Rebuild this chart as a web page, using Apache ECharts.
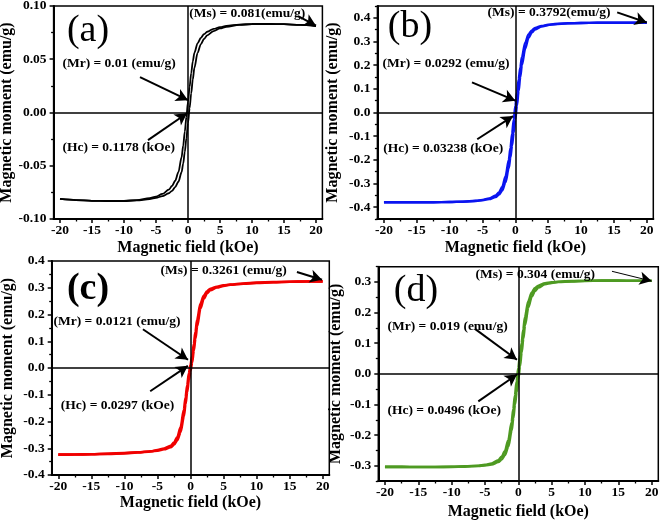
<!DOCTYPE html>
<html><head><meta charset="utf-8">
<script src="https://cdn.jsdelivr.net/npm/echarts@6/dist/echarts.min.js"></script>
<style>html,body{margin:0;padding:0;background:#fff}#c{width:661px;height:522px}</style>
</head><body><div id="c"></div>
<script>
// ---------- data ----------
const fieldKOe = [-20,-17.5,-15,-12.5,-10,-8,-6,-5,-4,-3,-2.5,-2,-1.5,-1,-0.75,-0.5,-0.25,0,0.25,0.5,0.75,1,1.5,2,2.5,3,4,5,6,8,10,12.5,15,17.5,20];

const aUpper = [-0.0812,-0.0822,-0.0829,-0.0831,-0.0829,-0.0822,-0.0805,-0.079,-0.0765,-0.0725,-0.069,-0.064,-0.056,-0.042,-0.031,-0.018,-0.004,0.010,0.024,0.037,0.048,0.056,0.065,0.070,0.0735,0.0758,0.0785,0.0802,0.0813,0.0826,0.0831,0.0832,0.0829,0.0822,0.0812];
const aLower = [-0.0812,-0.0822,-0.0829,-0.0832,-0.0831,-0.0826,-0.0813,-0.0802,-0.0785,-0.0758,-0.0735,-0.070,-0.065,-0.056,-0.048,-0.037,-0.024,-0.010,0.004,0.018,0.031,0.042,0.056,0.064,0.069,0.0725,0.0765,0.079,0.0805,0.0822,0.0829,0.0831,0.0829,0.0822,0.0812];

const bUpper = [-0.3792,-0.3792,-0.379,-0.379,-0.378,-0.3765,-0.373,-0.369,-0.363,-0.351,-0.338,-0.315,-0.27,-0.20,-0.15,-0.09,-0.03,0.029,0.085,0.14,0.19,0.235,0.295,0.33,0.347,0.357,0.366,0.371,0.374,0.377,0.378,0.379,0.379,0.3792,0.3792];
const bLower = [-0.3792,-0.3792,-0.379,-0.379,-0.378,-0.377,-0.374,-0.371,-0.366,-0.357,-0.347,-0.33,-0.295,-0.235,-0.19,-0.14,-0.085,-0.029,0.03,0.09,0.15,0.20,0.27,0.315,0.338,0.351,0.363,0.369,0.373,0.3765,0.378,0.379,0.379,0.3792,0.3792];

const cUpper = [-0.324,-0.3233,-0.3222,-0.3205,-0.318,-0.315,-0.311,-0.307,-0.301,-0.291,-0.279,-0.258,-0.222,-0.155,-0.11,-0.065,-0.02,0.012,0.045,0.09,0.135,0.18,0.24,0.27,0.287,0.296,0.304,0.309,0.312,0.316,0.319,0.321,0.3225,0.3235,0.324];
const cLower = [-0.324,-0.3235,-0.3225,-0.321,-0.319,-0.316,-0.312,-0.309,-0.304,-0.296,-0.287,-0.27,-0.24,-0.18,-0.135,-0.09,-0.045,-0.012,0.02,0.065,0.11,0.155,0.222,0.258,0.279,0.291,0.301,0.307,0.311,0.315,0.318,0.3205,0.3222,0.3233,0.324];

const dUpper = [-0.304,-0.304,-0.3045,-0.3045,-0.3035,-0.302,-0.300,-0.297,-0.293,-0.282,-0.271,-0.252,-0.217,-0.158,-0.115,-0.07,-0.025,0.019,0.06,0.10,0.145,0.185,0.237,0.265,0.28,0.288,0.296,0.299,0.301,0.303,0.304,0.3045,0.3045,0.304,0.304];
const dLower = [-0.304,-0.304,-0.3045,-0.3045,-0.304,-0.303,-0.301,-0.299,-0.296,-0.288,-0.28,-0.265,-0.237,-0.185,-0.145,-0.10,-0.06,-0.019,0.025,0.07,0.115,0.158,0.217,0.252,0.271,0.282,0.293,0.297,0.300,0.302,0.3035,0.3045,0.3045,0.304,0.304];

const xMajorTicks = [-20,-15,-10,-5,0,5,10,15,20];
const xMinorTicks = [-17.5,-12.5,-7.5,-2.5,2.5,7.5,12.5,17.5];
const aYMajor = [-0.1,-0.05,0,0.05,0.1];
const aYMinor = [-0.075,-0.025,0.025,0.075];
const bYMajor = [-0.4,-0.3,-0.2,-0.1,0,0.1,0.2,0.3,0.4];
const bYMinor = [-0.45,-0.35,-0.25,-0.15,-0.05,0.05,0.15,0.25,0.35,0.45];
const cYMajor = [-0.4,-0.3,-0.2,-0.1,0,0.1,0.2,0.3,0.4];
const cYMinor = [-0.35,-0.25,-0.15,-0.05,0.05,0.15,0.25,0.35];
const dYMajor = [-0.3,-0.2,-0.1,0,0.1,0.2,0.3];
const dYMinor = [-0.35,-0.25,-0.15,-0.05,0.05,0.15,0.25,0.35];

const aNotes = ['(Ms) = 0.081(emu/g)', '(Mr) = 0.01 (emu/g)', '(Hc) = 0.1178 (kOe)'];
const bNotes = ['(Ms) = 0.3792(emu/g)', '(Mr) = 0.0292 (emu/g)', '(Hc) = 0.03238 (kOe)'];
const cNotes = ['(Ms) = 0.3261 (emu/g)', '(Mr) = 0.0121 (emu/g)', '(Hc) = 0.0297 (kOe)'];
const dNotes = ['(Ms) = 0.304 (emu/g)', '(Mr) = 0.019 (emu/g)', '(Hc) = 0.0496 (kOe)'];

const xTitle = 'Magnetic field (kOe)';
const yTitle = 'Magnetic moment (emu/g)';

// ---------- layout ----------
const SERIF = "'Liberation Serif','Times New Roman',serif";
const panels = [
  {grid:{left:53.6, top:6, width:268.8, height:213}, ymin:-0.1, ymax:0.1, yMajor:aYMajor, yMinor:aYMinor, dec:2,
   color:'#000000', lw:1.8, up:aUpper, down:aLower, xGap:21, yGap:38, notes:aNotes,
   notePos:[[0.1,0.0925],[-19.7,0.0464],[-19.7,-0.0326]],
   arrows:[[[17.2,0.0906],[20,0.0815],2],[[-7.5,0.0332],[0,0.0116],2],[[-6.25,-0.026],[-0.15,-0.0007],2]],
   label:'(a)', labelXY:[88,31], bold:false},
  {grid:{left:377.4, top:6, width:275.9, height:213}, ymin:-0.45, ymax:0.45, yMajor:bYMajor, yMinor:bYMinor, dec:1,
   color:'#0a14f0', lw:2.4, up:bUpper, down:bLower, xGap:21, yGap:37, notes:bNotes,
   notePos:[[-4.3,0.423],[-20.3,0.209],[-20.2,-0.151]],
   arrows:[[[15.5,0.423],[20,0.380],2],[[-6.6,0.127],[0,0.05],2],[[-5.8,-0.113],[-0.35,-0.015],2]],
   label:'(b)', labelXY:[410,27], bold:false},
  {grid:{left:51.7, top:261, width:277.6, height:214}, ymin:-0.4, ymax:0.4, yMajor:cYMajor, yMinor:cYMinor, dec:1,
   color:'#f00000', lw:2.6, up:cUpper, down:cLower, xGap:19, yGap:35.5, notes:cNotes,
   notePos:[[-4.6,0.366],[-20.8,0.175],[-19.7,-0.139]],
   arrows:[[[16.1,0.359],[19.9,0.33],2],[[-7.2,0.145],[-0.38,0.031],2],[[-6.1,-0.087],[-0.4,0.008],2]],
   label:'(c)', labelXY:[88,289], bold:true},
  {grid:{left:378.3, top:266.7, width:280, height:214.3}, ymin:-0.35, ymax:0.35, yMajor:dYMajor, yMinor:dYMinor, dec:1,
   color:'#4e9a22', lw:2.6, up:dUpper, down:dLower, xGap:22.5, yGap:34, notes:dNotes,
   notePos:[[-6.5,0.326],[-19.7,0.154],[-19.7,-0.119]],
   arrows:[[[14.05,0.335],[20,0.303],1],[[-6.5,0.147],[-0.2,0.046],2],[[-6.0,-0.090],[-0.2,-0.002],2]],
   label:'(d)', labelXY:[416,291], bold:false}
];

const txt = {color:'#000', fontFamily:SERIF, fontWeight:'bold', fontSize:13.5};
const tickTxt = {color:'#000', fontFamily:SERIF, fontWeight:'bold', fontSize:13.5};
const titleTxt = {color:'#000', fontFamily:SERIF, fontWeight:'bold', fontSize:16};
const grids = [], xAxes = [], yAxes = [], series = [];

panels.forEach((p, i) => {
  grids.push(Object.assign({show:true, borderColor:'#000', borderWidth:1.5, backgroundColor:'#fff',
    containLabel:false, outerBoundsMode:'none'}, p.grid));
  xAxes.push({gridIndex:i, type:'value', min:-21, max:21, position:'bottom',
    axisLine:{show:true, onZero:false, lineStyle:{color:'#000', width:2}},
    axisTick:{show:true, inside:false, length:4, customValues:xMajorTicks, lineStyle:{color:'#000', width:1.5}},
    axisLabel:{show:true, customValues:xMajorTicks, margin:5, formatter:v=>String(v), ...tickTxt},
    splitLine:{show:false},
    name:xTitle, nameLocation:'middle', nameGap:p.xGap, nameTextStyle:{...titleTxt}});
  xAxes.push({gridIndex:i, type:'value', min:-21, max:21, position:'bottom',
    axisLine:{show:false, onZero:false},
    axisTick:{show:true, inside:false, length:2.5, customValues:xMinorTicks, lineStyle:{color:'#000', width:1.3}},
    axisLabel:{show:false}, splitLine:{show:false}});
  yAxes.push({gridIndex:i, type:'value', min:p.ymin, max:p.ymax, position:'left',
    axisLine:{show:true, onZero:false, lineStyle:{color:'#000', width:2}},
    axisTick:{show:true, inside:false, length:4, customValues:p.yMajor, lineStyle:{color:'#000', width:1.5}},
    axisLabel:{show:true, customValues:p.yMajor, margin:7, formatter:v=>Number(v).toFixed(p.dec), ...tickTxt},
    splitLine:{show:false},
    name:yTitle, nameLocation:'middle', nameGap:p.yGap, nameTextStyle:{...titleTxt}});
  yAxes.push({gridIndex:i, type:'value', min:p.ymin, max:p.ymax, position:'left',
    axisLine:{show:false, onZero:false},
    axisTick:{show:true, inside:false, length:2.5, customValues:p.yMinor, lineStyle:{color:'#000', width:1.3}},
    axisLabel:{show:false}, splitLine:{show:false}});

  const up = fieldKOe.map((h, k) => [h, p.up[k]]);
  const down = fieldKOe.map((h, k) => [h, p.down[k]]);
  series.push({type:'line', xAxisIndex:2*i, yAxisIndex:2*i, data:up, showSymbol:false, smooth:0.3,
    smoothMonotone:'x', lineStyle:{color:p.color, width:p.lw}, itemStyle:{color:p.color}, z:3,
    markLine:{silent:true, symbol:['none','none'], label:{show:false},
      lineStyle:{color:'#000', width:1.5, type:'solid'},
      data:[{xAxis:0}, {yAxis:0}]}});
  series.push({type:'line', xAxisIndex:2*i, yAxisIndex:2*i, data:down, showSymbol:false, smooth:0.3,
    smoothMonotone:'x', lineStyle:{color:p.color, width:p.lw}, itemStyle:{color:p.color}, z:3,
    markLine:{silent:true, symbol:['none','arrow'], symbolSize:[10,12], label:{show:false},
      lineStyle:{color:'#000', width:2, type:'solid'},
      data:p.arrows.map(a => [{coord:a[0], lineStyle:{width:a[2], color:'#000', type:'solid'}}, {coord:a[1]}])},
    markPoint:{silent:true, symbol:'circle', symbolSize:1, itemStyle:{color:'rgba(0,0,0,0)'},
      label:{show:true, position:'right', distance:0, ...txt},
      data:p.notes.map((t, k) => ({coord:p.notePos[k], value:0, label:{formatter:t}}))}});
});

const chart = echarts.init(document.getElementById('c'), null, {renderer:'canvas'});
chart.setOption({
  animation:false, backgroundColor:'#fff',
  grid:grids, xAxis:xAxes, yAxis:yAxes, series:series,
  graphic:panels.map((p)=>({type:'text', x:p.labelXY[0], y:p.labelXY[1], z:10, silent:true,
    style:{text:p.label, fill:'#000', font:(p.bold?'bold ':'')+'38px '+SERIF, align:'center', verticalAlign:'middle'}}))
});
</script></body></html>
